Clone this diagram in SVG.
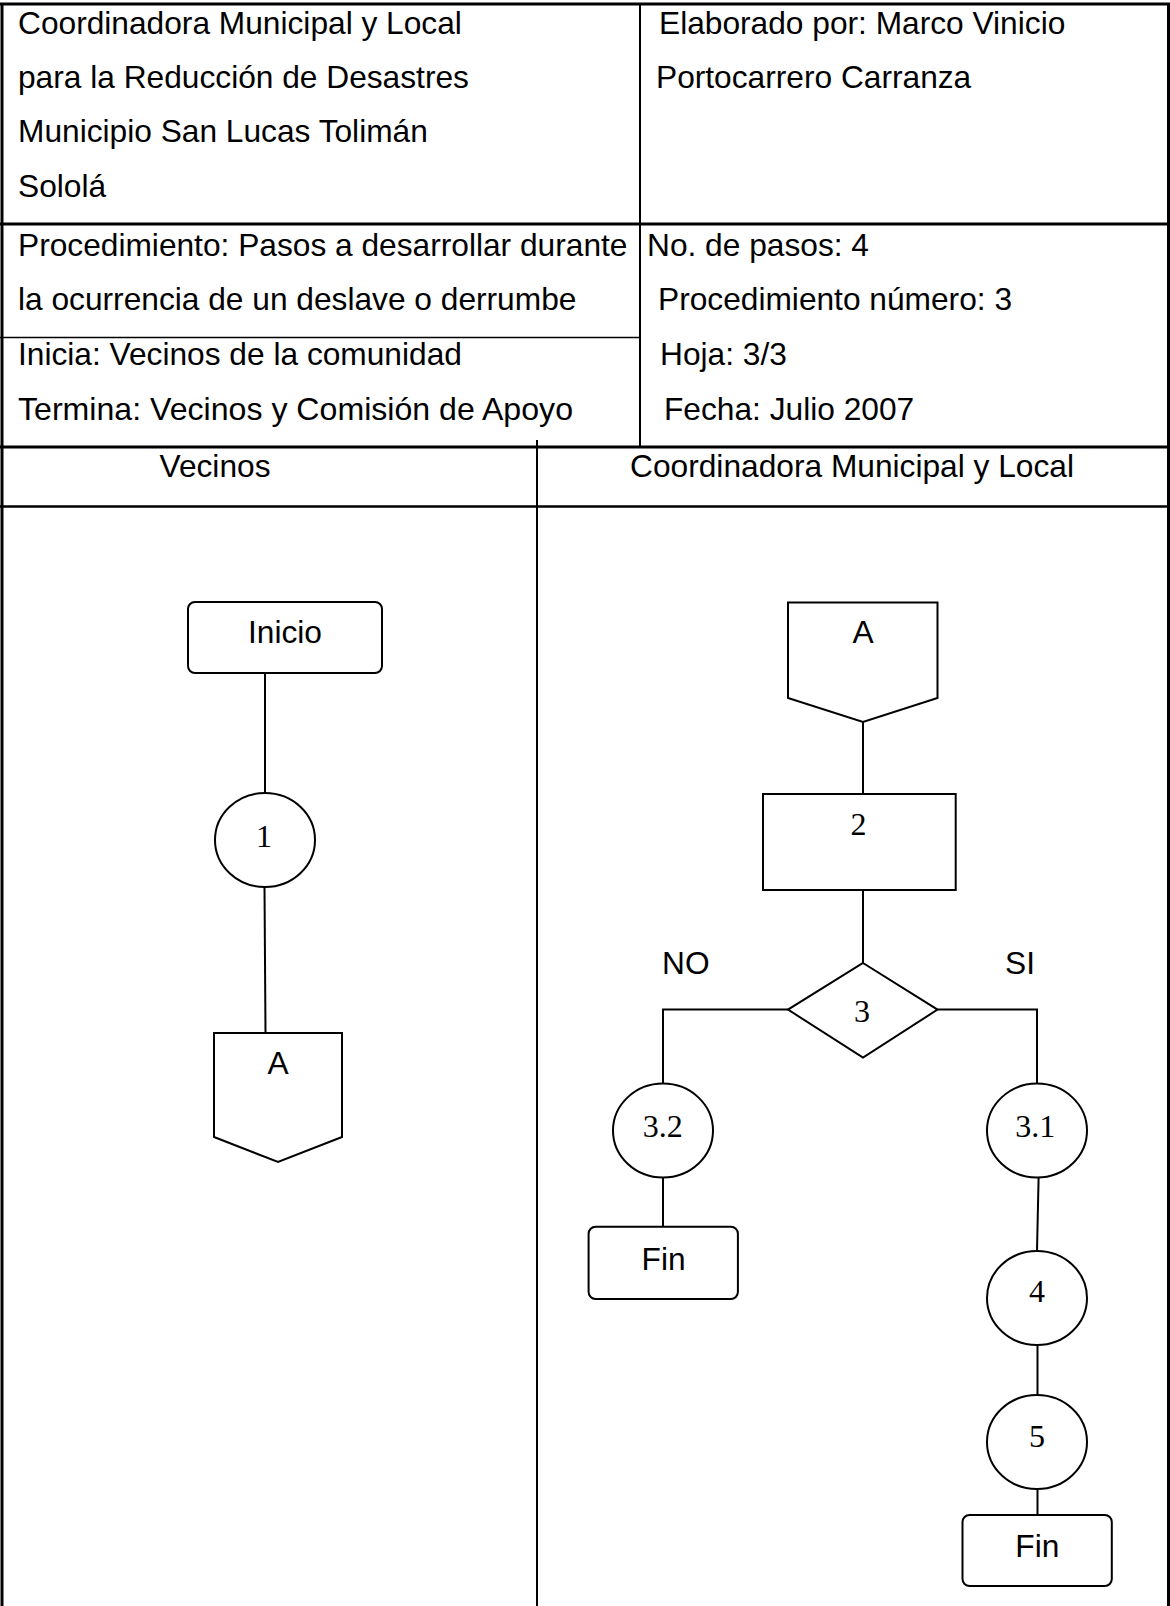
<svg xmlns="http://www.w3.org/2000/svg" width="1170" height="1606" viewBox="0 0 1170 1606">
<style>
.t{font-family:"Liberation Sans",Arial,sans-serif;font-size:31.7px;fill:#000}
.n{font-family:"Liberation Serif","Times New Roman",serif;font-size:32px;fill:#000;text-anchor:middle}
.m{text-anchor:middle}
.grid{stroke:#000;fill:none}
.shape{fill:#fff;stroke:#000;stroke-width:2}
.conn{stroke:#000;stroke-width:2;fill:none}
</style>
<rect width="1170" height="1606" fill="#fff"/>
<g id="table">
<line class="grid" x1="0" y1="4" x2="1170" y2="4" stroke-width="3"/>
<line class="grid" x1="2" y1="3" x2="2" y2="1606" stroke-width="3"/>
<line class="grid" x1="1168.5" y1="3" x2="1168.5" y2="1606" stroke-width="3"/>
<line class="grid" x1="640" y1="3" x2="640" y2="447" stroke-width="2"/>
<line class="grid" x1="0" y1="224" x2="1170" y2="224" stroke-width="3"/>
<line class="grid" x1="0" y1="337.5" x2="640" y2="337.5" stroke-width="1.5"/>
<line class="grid" x1="0" y1="447" x2="1170" y2="447" stroke-width="3"/>
<line class="grid" x1="0" y1="506.5" x2="1170" y2="506.5" stroke-width="2.5"/>
<line class="grid" x1="537" y1="440" x2="537" y2="1606" stroke-width="2"/>
</g>
<g id="header-text">
<text class="t" x="18" y="33.5">Coordinadora Municipal y Local</text>
<text class="t" x="18" y="88">para la Reducción de Desastres</text>
<text class="t" x="18" y="142">Municipio San Lucas Tolimán</text>
<text class="t" x="18" y="196.5">Sololá</text>
<text class="t" x="659" y="33.5">Elaborado por: Marco Vinicio</text>
<text class="t" x="656" y="88">Portocarrero Carranza</text>
<text class="t" x="18" y="255.5">Procedimiento: Pasos a desarrollar durante</text>
<text class="t" x="18" y="310">la ocurrencia de un deslave o derrumbe</text>
<text class="t" x="18" y="365">Inicia: Vecinos de la comunidad</text>
<text class="t" x="18" y="420" textLength="555" lengthAdjust="spacingAndGlyphs">Termina: Vecinos y Comisión de Apoyo</text>
<text class="t" x="647" y="255.5">No. de pasos: 4</text>
<text class="t" x="658" y="310">Procedimiento número: 3</text>
<text class="t" x="660" y="365">Hoja: 3/3</text>
<text class="t" x="664" y="420">Fecha: Julio 2007</text>
<text class="t m" x="215" y="477">Vecinos</text>
<text class="t m" x="852" y="477">Coordinadora Municipal y Local</text>
</g>
<g id="connectors">
<line class="conn" x1="265" y1="673" x2="265" y2="793"/>
<line class="conn" x1="264.5" y1="887" x2="265.5" y2="1033"/>
<line class="conn" x1="863" y1="722" x2="863" y2="794"/>
<line class="conn" x1="863" y1="890" x2="863" y2="963"/>
<polyline class="conn" points="788,1009.6 663,1009.6 663,1083.6"/>
<polyline class="conn" points="937.5,1009.6 1037,1009.6 1037,1083.6"/>
<line class="conn" x1="663" y1="1177.6" x2="663" y2="1226.7"/>
<line class="conn" x1="1038.6" y1="1177.6" x2="1037" y2="1251"/>
<line class="conn" x1="1037.5" y1="1345" x2="1037.5" y2="1395"/>
<line class="conn" x1="1037.5" y1="1489" x2="1037.5" y2="1515"/>
<text class="t" x="662" y="974">NO</text>
<text class="t" x="1005" y="974">SI</text>
</g>
<g id="node-inicio">
<rect class="shape" x="188" y="602" width="194" height="71" rx="7"/>
<text class="t m" x="285" y="643">Inicio</text>
</g>
<g id="node-1">
<ellipse class="shape" cx="265" cy="840" rx="50" ry="47"/>
<text class="n" x="264" y="847">1</text>
</g>
<g id="node-a-left">
<polygon class="shape" points="214,1033 342,1033 342,1137 278,1162 214,1137"/>
<text class="t m" x="278" y="1074">A</text>
</g>
<g id="node-a-right">
<polygon class="shape" points="788,602.5 937.5,602.5 937.5,698 863,722 788,698"/>
<text class="t m" x="863" y="642.5">A</text>
</g>
<g id="node-2">
<rect class="shape" x="763" y="794" width="192.7" height="96"/>
<text class="n" x="858.5" y="835">2</text>
</g>
<g id="node-3">
<polygon class="shape" points="863,963 937.5,1009.6 863,1057.5 788,1009.6"/>
<text class="n" x="862" y="1022">3</text>
</g>
<g id="node-3-2">
<ellipse class="shape" cx="663" cy="1130.6" rx="50" ry="47"/>
<text class="n" x="662.7" y="1137">3.2</text>
</g>
<g id="node-3-1">
<ellipse class="shape" cx="1037" cy="1130.6" rx="50" ry="47"/>
<text class="n" x="1035.3" y="1137">3.1</text>
</g>
<g id="node-fin-left">
<rect class="shape" x="588.6" y="1226.7" width="149.3" height="72.3" rx="7"/>
<text class="t m" x="663.6" y="1270">Fin</text>
</g>
<g id="node-4">
<ellipse class="shape" cx="1037" cy="1298" rx="50" ry="47"/>
<text class="n" x="1037" y="1302">4</text>
</g>
<g id="node-5">
<ellipse class="shape" cx="1037" cy="1442" rx="50" ry="47"/>
<text class="n" x="1037" y="1447">5</text>
</g>
<g id="node-fin-right">
<rect class="shape" x="962.5" y="1515" width="149.3" height="71" rx="7"/>
<text class="t m" x="1037.3" y="1557">Fin</text>
</g>
</svg>
